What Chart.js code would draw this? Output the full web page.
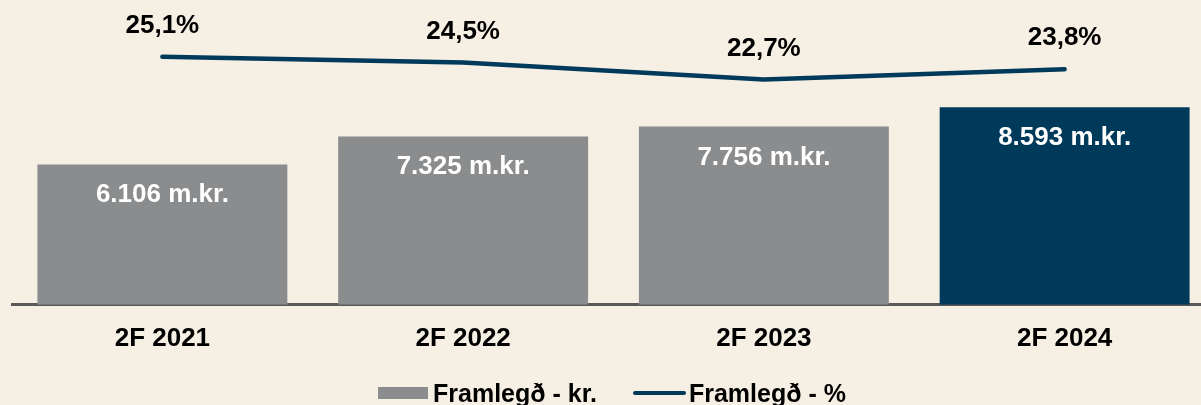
<!DOCTYPE html>
<html>
<head>
<meta charset="utf-8">
<script src="https://cdn.jsdelivr.net/npm/chart.js@4.4.0/dist/chart.umd.min.js"></script>
<style>
  html, body { margin:0; padding:0; background:#F5EFE4; overflow:hidden; width:1201px; height:405px; }
  #wrap { position:relative; width:1216px; height:405px; }
  canvas { display:block; }
  #legend { position:absolute; left:378px; top:378px; height:30px; display:flex; align-items:center;
            font-family:"Liberation Sans", Arial, sans-serif; font-weight:bold; font-size:25px; line-height:30px; color:#000; white-space:nowrap; }
  .box { width:50px; height:12px; background:#8A8C8D; margin-right:5px; }
  .ln { width:53px; height:4px; border-radius:2px; background:#003A5A; margin-left:36px; margin-right:3px; }
</style>
</head>
<body>
<div id="wrap">
  <canvas id="c" width="1216" height="405"></canvas>
  <div id="legend"><span class="box"></span><span id="l1"></span><span class="ln"></span><span id="l2"></span></div>
</div>
<script>
const categories = ["2F 2021", "2F 2022", "2F 2023", "2F 2024"];
const marginKr = [6106, 7325, 7756, 8593];
const marginPct = [25.1, 24.5, 22.7, 23.8];
const seriesNames = ["Framlegð - kr.", "Framlegð - %"];
const barColors = ["#8A8C8D", "#8A8C8D", "#8A8C8D", "#003A5A"];

document.getElementById('l1').textContent = seriesNames[0];
document.getElementById('l2').textContent = seriesNames[1];

const FONT = '"Liberation Sans", Arial, sans-serif';
const fmtKr = v => v.toLocaleString('de-DE') + ' m.kr.';
const fmtPct = v => v.toFixed(1).replace('.', ',') + '%';

const labelPlugin = {
  id: 'valueLabels',
  afterDatasetsDraw(chart) {
    const ctx = chart.ctx;
    ctx.save();
    ctx.font = 'bold 26px ' + FONT;
    ctx.textAlign = 'center';
    ctx.textBaseline = 'alphabetic';
    chart.getDatasetMeta(0).data.forEach((el, i) => {
      ctx.fillStyle = '#FFFFFF';
      ctx.fillText(fmtKr(marginKr[i]), el.x, el.y + 38);
    });
    chart.getDatasetMeta(1).data.forEach((el, i) => {
      ctx.fillStyle = '#000000';
      ctx.fillText(fmtPct(marginPct[i]), el.x, el.y - 24);
    });
    ctx.restore();
  }
};

new Chart(document.getElementById('c'), {
  data: {
    labels: categories,
    datasets: [
      { type: 'bar', label: seriesNames[0], data: marginKr, backgroundColor: barColors,
        yAxisID: 'y', order: 2, categoryPercentage: 1.0, barPercentage: 0.831 },
      { type: 'line', label: seriesNames[1], data: marginPct, borderColor: '#003A5A', borderWidth: 4.5,
        borderCapStyle: 'round', borderJoinStyle: 'round', pointRadius: 0, pointHoverRadius: 0,
        tension: 0, yAxisID: 'y1', order: 1 }
    ]
  },
  options: {
    responsive: false,
    animation: false,
    devicePixelRatio: 1,
    layout: { padding: { left: 12, right: 1, top: 0, bottom: 33 } },
    plugins: { legend: { display: false }, tooltip: { enabled: false } },
    scales: {
      x: {
        grid: { display: false, drawTicks: false },
        border: { display: true, color: '#595959', width: 3 },
        ticks: { color: '#000', font: { family: FONT, size: 26, weight: 'bold' }, padding: 18 }
      },
      y: { display: false, min: 0, max: 13260 },
      y1: { display: false, min: -1.04, max: 31.09 }
    }
  },
  plugins: [labelPlugin]
});
</script>
</body>
</html>
